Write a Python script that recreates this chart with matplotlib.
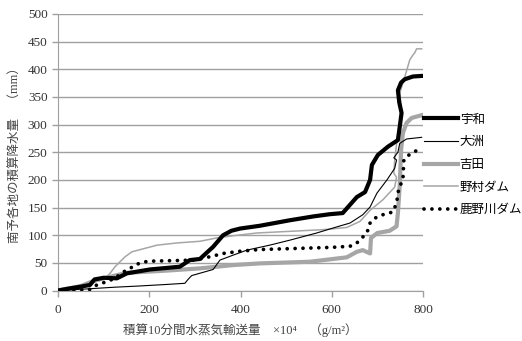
import matplotlib
matplotlib.use('Agg')
import matplotlib.pyplot as plt

plt.rcParams['font.family'] = ['Liberation Serif', 'Noto Sans CJK JP', 'DejaVu Sans']

# 系列データ
uwa_x = [0, 20, 50, 70, 80, 100, 129, 151, 201, 267, 289, 311, 340, 362, 380, 399,
         442, 508, 560, 596, 624, 640, 655, 673, 684, 688, 701, 723, 745, 749, 753,
         748, 745, 752, 760, 778, 797]
uwa_y = [0, 3, 7, 10, 20, 23, 22, 31, 38, 43, 55, 57, 79, 100, 108, 112,
         117, 127, 134, 138, 140, 155, 169, 178, 200, 227, 245, 260, 272, 296, 321,
         340, 362, 376, 382, 387, 388]

ozu_x = [0, 66, 125, 175, 239, 278, 285, 293, 340, 355, 384, 414, 464, 508, 567,
         611, 640, 668, 684, 699, 721, 738, 742, 736, 745, 749, 764, 797]
ozu_y = [0, 3, 6, 8, 11, 13, 20, 27, 38, 55, 64, 73, 82, 91, 104,
         115, 122, 137, 151, 176, 200, 221, 236, 240, 250, 266, 274, 277]

yoshida_x = [0, 50, 80, 100, 151, 239, 311, 384, 442, 552, 633, 655, 668, 684, 686,
             700, 727, 742, 745, 749, 752, 756, 764, 775, 797]
yoshida_y = [0, 8, 18, 22, 32, 36, 40, 46, 49, 52, 60, 70, 73, 67, 95,
             104, 108, 116, 140, 190, 254, 285, 303, 312, 317]

nomura_x = [0, 50, 80, 103, 114, 125, 147, 162, 217, 261, 311, 348, 384, 436, 508,
            581, 633, 662, 684, 712, 738, 742, 736, 738, 745, 753, 749, 760, 771,
            778, 782, 786, 797]
nomura_y = [0, 6, 15, 22, 31, 43, 61, 70, 82, 86, 89, 95, 99, 104, 107,
            110, 114, 125, 145, 164, 187, 205, 212, 236, 285, 321, 357, 386, 417,
            426, 430, 437, 437]

kanogawa_x = [0, 70, 85, 103, 125, 140, 158, 169, 184, 200, 300, 315, 333, 362, 399,
              440, 600, 640, 655, 677, 684, 695, 712, 734, 742, 747, 756, 758, 765,
              780, 791]
kanogawa_y = [0, 2, 10, 15, 22, 32, 40, 46, 51, 53, 55, 58, 61, 67, 71,
              74, 78, 80, 86, 104, 122, 131, 137, 142, 158, 185, 200, 236, 243,
              250, 256]

labels = ['宇和', '大洲', '吉田', '野村ダム', '鹿野川ダム']
y_ticks = [0, 50, 100, 150, 200, 250, 300, 350, 400, 450, 500]
x_ticks = [0, 200, 400, 600, 800]

fig = plt.figure(figsize=(5.22, 3.41), dpi=100)
ax = fig.add_axes([58 / 522, 1 - 290.5 / 341, 365 / 522, 276.5 / 341])

grey = '#a6a6a6'
ax.plot(uwa_x, uwa_y, color='black', lw=3.0, label=labels[0], zorder=4)
ax.plot(ozu_x, ozu_y, color='black', lw=0.8, label=labels[1], zorder=5)
ax.plot(yoshida_x, yoshida_y, color=grey, lw=3.0, label=labels[2], zorder=3)
ax.plot(nomura_x, nomura_y, color=grey, lw=1.1, label=labels[3], zorder=3)
ax.plot(kanogawa_x, kanogawa_y, color='black', lw=2.7, ls=(0, (0.01, 2.1)),
        dash_capstyle='round', label=labels[4], zorder=4)

ax.set_xlim(0, 800)
ax.set_ylim(0, 500)
ax.set_xticks(x_ticks)
ax.set_yticks(y_ticks)
ax.yaxis.grid(True, color='#a0a0a0', lw=1.0)
ax.set_axisbelow(True)
for s in ['top', 'right']:
    ax.spines[s].set_visible(False)
ax.spines['left'].set_color('#a0a0a0')
ax.spines['bottom'].set_color('#a0a0a0')
ax.tick_params(axis='both', colors='#a0a0a0', labelcolor='#333333', labelsize=9.5,
               length=4, width=1)
ax.tick_params(axis='x', pad=6)

ax.set_ylabel('南予各地の積算降水量　（mm）', fontsize=9, color='#444444', labelpad=4)
ax.set_xlabel('積算10分間水蒸気輸送量　×10⁴　（g/m²）', fontsize=9,
              color='#444444', labelpad=5)

fig.legend(loc='center left', bbox_to_anchor=(424 / 522, 1 - 165 / 341),
           frameon=False, fontsize=9, handlelength=2.7, handletextpad=0.15,
           labelspacing=0.85, borderpad=0, borderaxespad=0)

fig.savefig('out.png', dpi=100)
